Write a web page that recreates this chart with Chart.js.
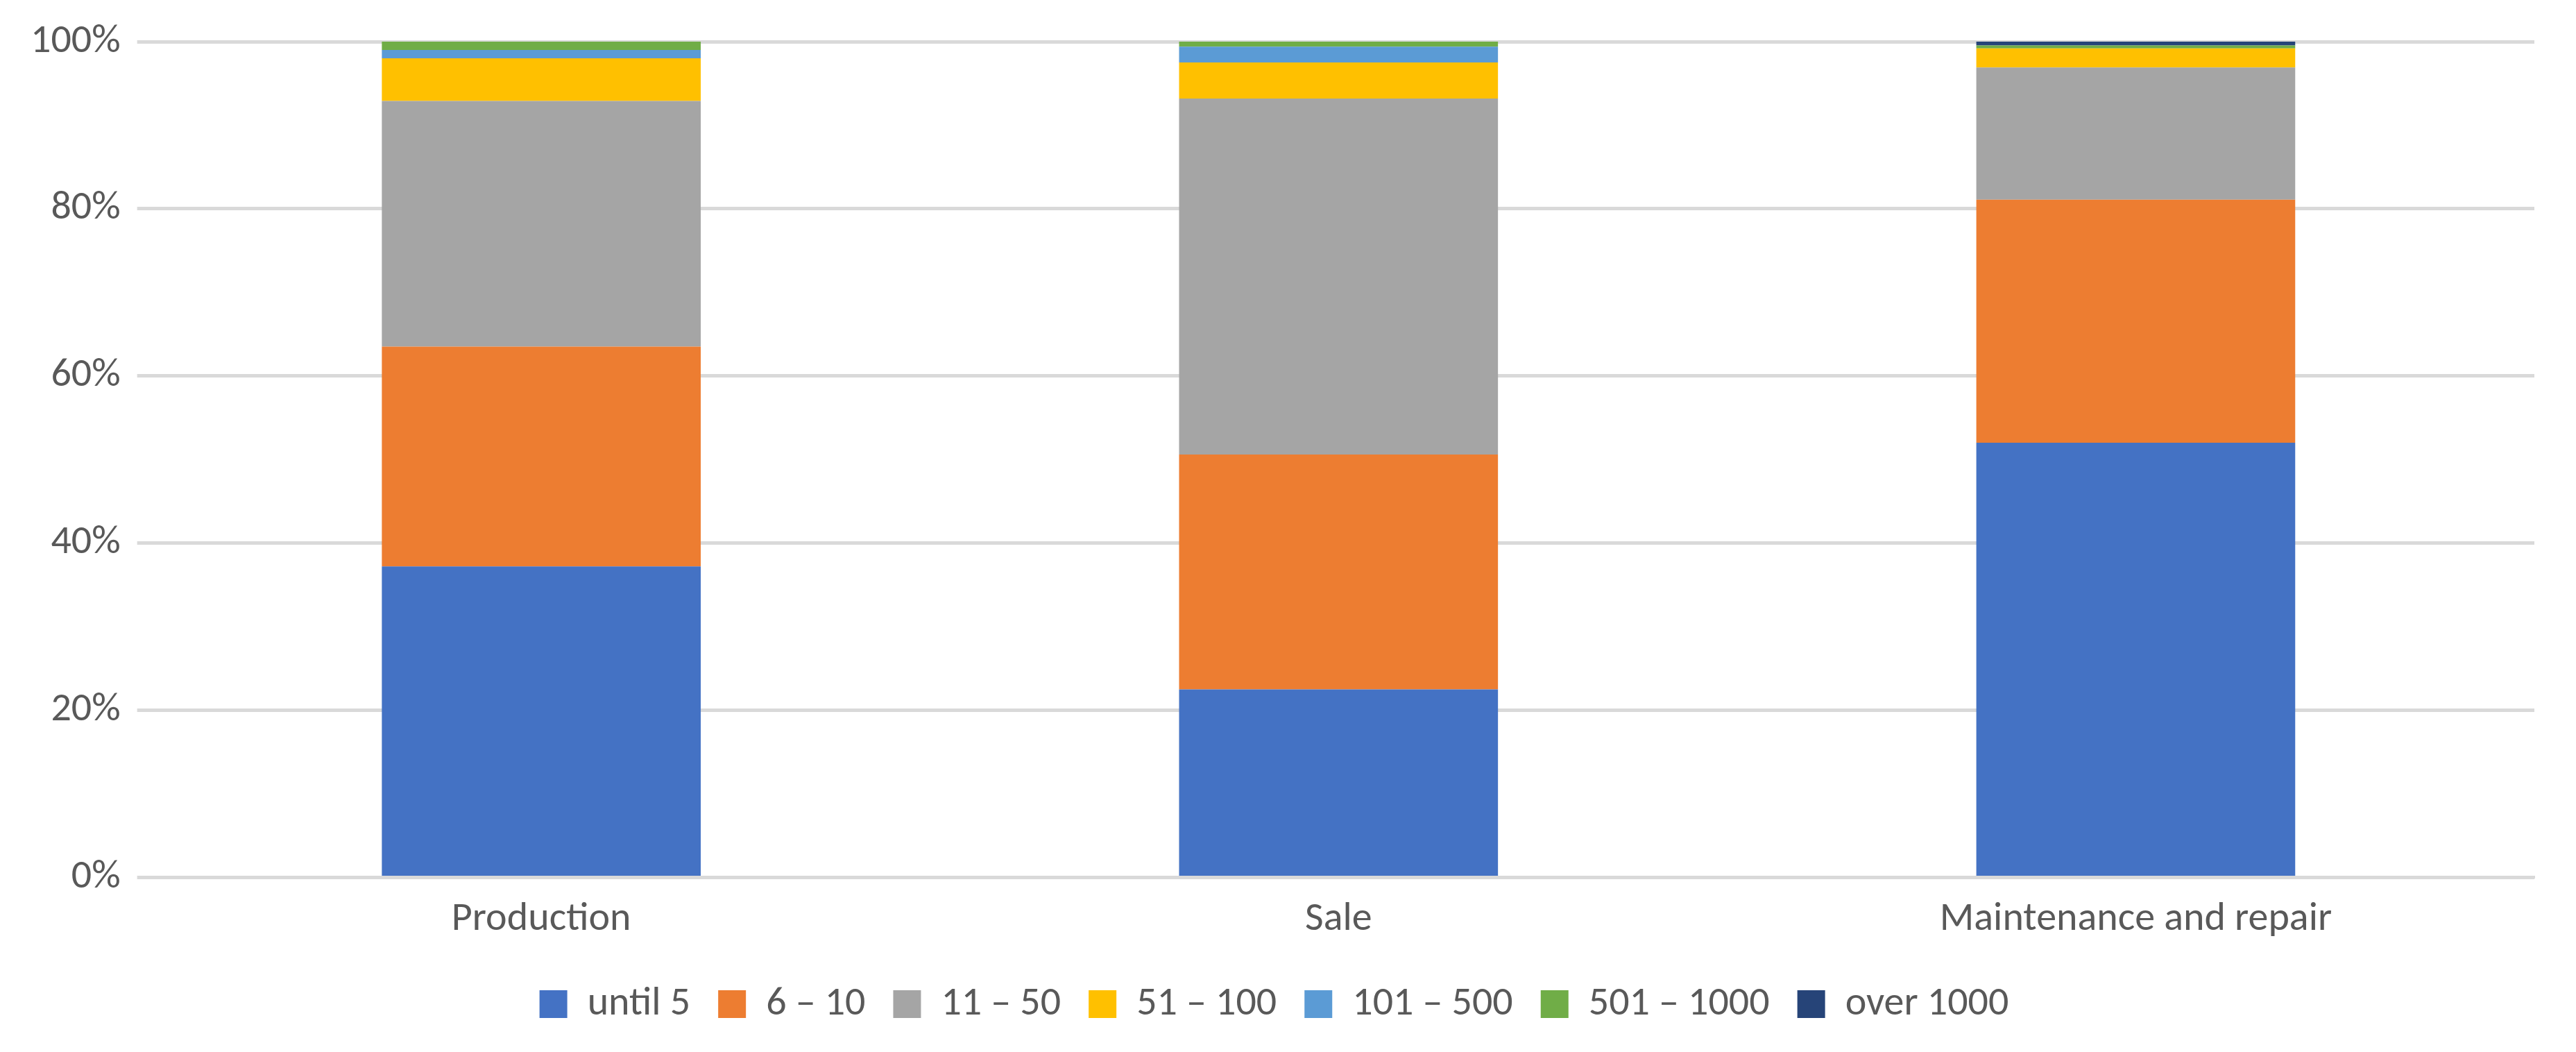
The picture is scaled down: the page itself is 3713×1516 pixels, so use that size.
<!DOCTYPE html>
<html>
<head>
<meta charset="utf-8">
<script src="https://cdn.jsdelivr.net/npm/chart.js@4"></script>
<style>
  html, body { margin: 0; padding: 0; background: #fff; }
  #wrap { width: 3713px; height: 1516px; }
</style>
</head>
<body>
<div id="wrap"><canvas id="chart"></canvas></div>
<script>
const categories = ['Production', 'Sale', 'Maintenance and repair']
const seriesNames = ['until 5', '6 – 10', '11 – 50', '51 – 100', '101 – 500', '501 – 1000', 'over 1000']
const seriesColors = ['#4472C4', '#ED7D31', '#A5A5A5', '#FFC000', '#5B9BD5', '#70AD47', '#264478']
const until5 = [37.2, 22.5, 52.0]
const s6to10 = [26.3, 28.1, 29.1]
const s11to50 = [29.4, 42.6, 15.8]
const s51to100 = [5.1, 4.3, 2.3]
const s101to500 = [1.0, 1.9, 0]
const s501to1000 = [1.0, 0.6, 0.35]
const over1000 = [0, 0, 0.45]
const seriesValues = [until5, s6to10, s11to50, s51to100, s101to500, s501to1000, over1000]

Chart.defaults.font.family = 'Carlito, "Open Sans", "Liberation Sans", sans-serif'
Chart.defaults.color = '#595959'

new Chart(document.getElementById('chart'), {
  type: 'bar',
  data: {
    labels: categories,
    datasets: seriesNames.map((name, i) => ({
      label: name,
      data: seriesValues[i],
      backgroundColor: seriesColors[i],
      barPercentage: 0.4,
      categoryPercentage: 1
    }))
  },
  options: {
    responsive: true,
    maintainAspectRatio: false,
    animation: false,
    layout: { padding: { left: 20, right: 60, top: 60, bottom: 30 } },
    plugins: {
      tooltip: { enabled: false },
      legend: {
        position: 'bottom',
        labels: { font: { size: 58 }, boxWidth: 40, boxHeight: 40, padding: 40 }
      }
    },
    scales: {
      x: {
        stacked: true,
        grid: { display: false },
        border: { color: '#D9D9D9', width: 4 },
        ticks: { font: { size: 58 }, padding: 18 }
      },
      y: {
        stacked: true,
        min: 0,
        max: 100,
        ticks: { stepSize: 20, font: { size: 58 }, padding: 24, callback: v => v + '%' },
        grid: { color: '#D9D9D9', lineWidth: 5 },
        border: { display: false }
      }
    }
  }
})
</script>
</body>
</html>
